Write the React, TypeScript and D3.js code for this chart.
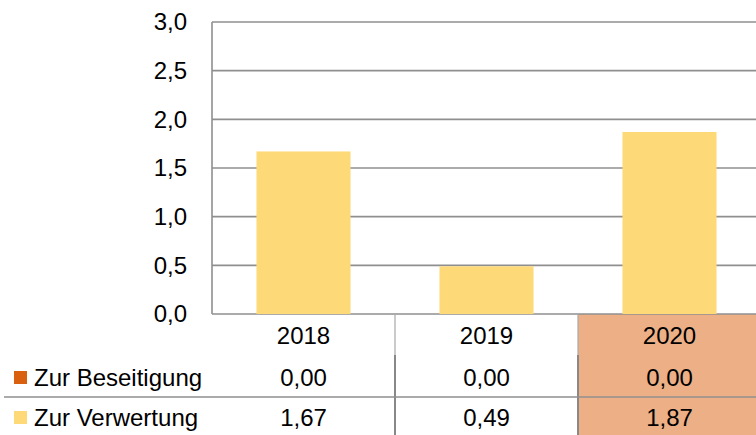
import * as d3 from "d3";

const categories = ["2018", "2019", "2020"];
const seriesNames = ["Zur Beseitigung", "Zur Verwertung"];
const beseitigung = [0.0, 0.0, 0.0];
const verwertung = [1.67, 0.49, 1.87];
const yTicks = [0, 0.5, 1.0, 1.5, 2.0, 2.5, 3.0];
const highlighted = "2020";

const colors = ["#D9600F", "#FED978"];

const width = 756;
const height = 435;
const plot = { left: 212, right: 761, top: 22, bottom: 314 };
const rows = [344, 386, 426];
const font = "'Liberation Sans', Arial, sans-serif";
const fontSize = 24;
const lineColor = "#8f8f8f";

const fmt1 = (v: number) => v.toFixed(1).replace(".", ",");
const fmt2 = (v: number) => v.toFixed(2).replace(".", ",");

export default function App() {
  const x = d3
    .scaleBand<string>()
    .domain(categories)
    .range([plot.left, plot.right])
    .paddingInner(0.486)
    .paddingOuter(0.243);

  const y = d3.scaleLinear().domain([0, 3]).range([plot.bottom, plot.top]);

  const step = x.step();
  const colStart = (c: string) => (x(c) ?? 0) - (step - x.bandwidth()) / 2;
  const center = (c: string) => (x(c) ?? 0) + x.bandwidth() / 2;
  const tableValues = [beseitigung, verwertung];

  return (
    <svg
      width={width}
      height={height}
      style={{ position: "absolute", left: 0, top: 0, background: "#fff" }}
      fontFamily={font}
      fontSize={fontSize}
    >
      {/* highlighted column in table */}
      <rect
        x={colStart(highlighted)}
        y={plot.bottom}
        width={step}
        height={height - plot.bottom}
        fill="#EDAF86"
      />

      {/* grid */}
      {yTicks.map((t) => (
        <line
          key={t}
          x1={plot.left}
          x2={width}
          y1={y(t)}
          y2={y(t)}
          stroke={lineColor}
          strokeWidth={1.6}
        />
      ))}
      <line
        x1={plot.left}
        x2={plot.left}
        y1={plot.top}
        y2={plot.bottom}
        stroke={lineColor}
        strokeWidth={1.6}
      />

      {/* y tick labels */}
      {yTicks.map((t) => (
        <text
          key={t}
          x={187}
          y={y(t)}
          dy="0.35em"
          textAnchor="end"
          fill="#000"
        >
          {fmt1(t)}
        </text>
      ))}

      {/* bars */}
      {categories.map((c, i) => (
        <rect
          key={c}
          x={x(c)}
          y={y(verwertung[i])}
          width={x.bandwidth()}
          height={y(0) - y(verwertung[i])}
          fill={colors[1]}
        />
      ))}

      {/* table lines */}
      {categories.slice(1).map((c) => (
        <g key={c}>
          <line
            x1={colStart(c)}
            x2={colStart(c)}
            y1={plot.bottom}
            y2={355}
            stroke="#a8a8a8"
            strokeWidth={1.2}
          />
          <line
            x1={colStart(c)}
            x2={colStart(c)}
            y1={355}
            y2={height}
            stroke="#888"
            strokeWidth={2}
          />
        </g>
      ))}
      <line x1={4} x2={width} y1={397} y2={397} stroke={lineColor} strokeWidth={1.6} />

      {/* header row */}
      {categories.map((c) => (
        <text key={c} x={center(c)} y={rows[0]} textAnchor="middle" fill="#000">
          {c}
        </text>
      ))}

      {/* data rows */}
      {seriesNames.map((name, r) => (
        <g key={name}>
          <rect x={14} y={rows[r + 1] - 15} width={13} height={13} fill={colors[r]} />
          <text x={34} y={rows[r + 1]} fill="#000">
            {name}
          </text>
          {categories.map((c, i) => (
            <text
              key={c}
              x={center(c)}
              y={rows[r + 1]}
              textAnchor="middle"
              fill="#000"
            >
              {fmt2(tableValues[r][i])}
            </text>
          ))}
        </g>
      ))}
    </svg>
  );
}
